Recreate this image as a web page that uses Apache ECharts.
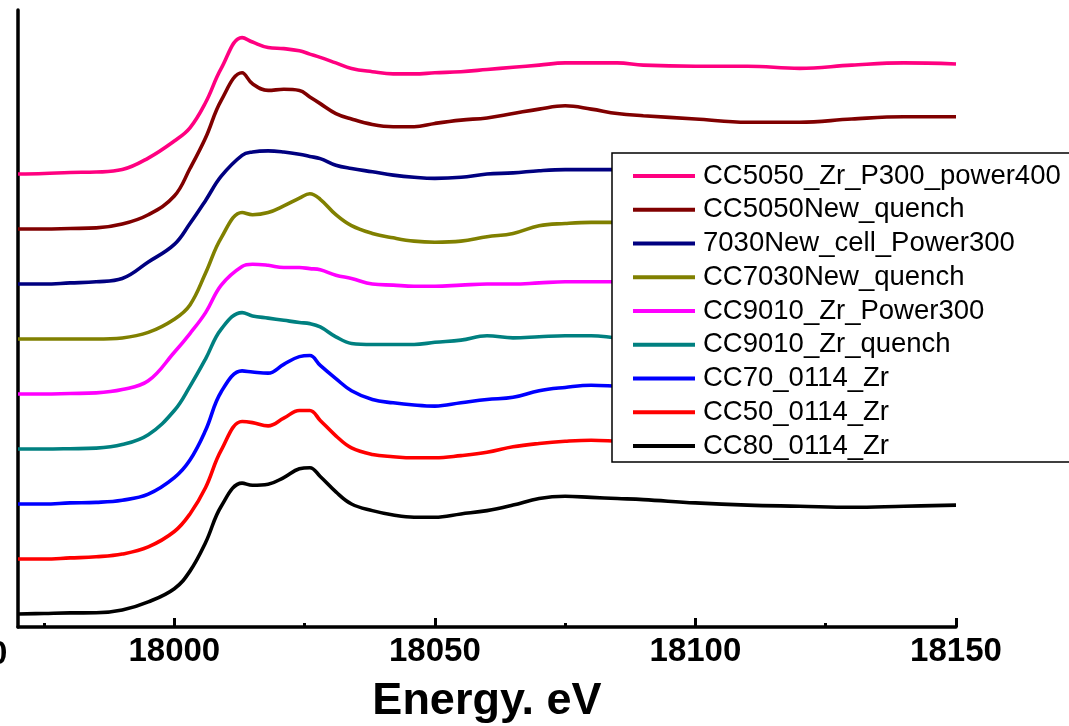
<!DOCTYPE html>
<html>
<head>
<meta charset="utf-8">
<script src="https://cdn.jsdelivr.net/npm/echarts@6/dist/echarts.min.js"></script>
<style>
  html, body { margin: 0; padding: 0; background: #fff; }
  #chart { width: 1069px; height: 726px; }
</style>
</head>
<body>
<div id="chart"></div>
<script>
// Zr K-edge XANES, normalized absorption, stacked with a constant offset
const energy = [17970, 17975, 17980, 17985, 17990, 17995, 18000, 18003, 18006, 18009,
  18013, 18015, 18018, 18021, 18024, 18026, 18028, 18031, 18034, 18038,
  18042, 18046, 18050, 18055, 18060, 18065, 18070, 18075, 18080, 18085,
  18090, 18100, 18110, 18120, 18130, 18140, 18150];

const seriesNames = ['CC5050_Zr_P300_power400', 'CC5050New_quench', '7030New_cell_Power300',
  'CC7030New_quench', 'CC9010_Zr_Power300', 'CC9010_Zr_quench', 'CC70_0114_Zr',
  'CC50_0114_Zr', 'CC80_0114_Zr'];

const seriesColors = ['#FF0080', '#800000', '#000080', '#808000', '#FF00FF', '#008080',
  '#0000FF', '#FF0000', '#000000'];

// vertical offset applied to each normalized spectrum
const offsets = [4.0, 3.5, 3.0, 2.5, 2.0, 1.5, 1.0, 0.5, 0.0];

const cc5050ZrP300Power400 = [0, 0.005, 0.014, 0.018, 0.04, 0.145, 0.30, 0.42, 0.65, 0.96,
  1.24, 1.20, 1.15, 1.14, 1.12, 1.09, 1.06, 1.01, 0.96, 0.93,
  0.91, 0.91, 0.92, 0.93, 0.95, 0.97, 0.99, 1.01, 1.01, 1.01,
  0.99, 0.98, 0.98, 0.96, 0.99, 1.01, 1.00];
const cc5050NewQuench = [0, 0, 0.005, 0.01, 0.045, 0.13, 0.30, 0.55, 0.83, 1.17,
  1.42, 1.32, 1.26, 1.27, 1.26, 1.20, 1.14, 1.05, 1.00, 0.95,
  0.93, 0.93, 0.96, 0.99, 1.01, 1.05, 1.09, 1.12, 1.09, 1.05,
  1.03, 1.00, 0.97, 0.97, 1.00, 1.02, 1.02];
const new7030CellPower300 = [0, 0, 0.01, 0.02, 0.05, 0.20, 0.36, 0.55, 0.76, 0.98,
  1.17, 1.20, 1.21, 1.20, 1.18, 1.16, 1.14, 1.08, 1.05, 1.02,
  0.99, 0.97, 0.96, 0.97, 1.00, 1.01, 1.03, 1.04, 1.04, 1.04,
  1.03, 1.02, 1.01, 1.00, 1.00, 1.00, 1.00];
const cc7030NewQuench = [0, 0, 0, 0, 0.01, 0.06, 0.18, 0.31, 0.60, 0.92,
  1.15, 1.13, 1.15, 1.21, 1.28, 1.32, 1.27, 1.13, 1.03, 0.96,
  0.92, 0.89, 0.88, 0.89, 0.93, 0.96, 1.03, 1.05, 1.06, 1.06,
  1.05, 1.03, 1.01, 1.00, 0.99, 1.00, 1.00];
const cc9010ZrPower300 = [0, 0, 0.005, 0.01, 0.04, 0.12, 0.38, 0.55, 0.74, 0.99,
  1.16, 1.18, 1.17, 1.15, 1.15, 1.14, 1.13, 1.08, 1.05, 1.00,
  0.99, 0.98, 0.98, 0.99, 1.00, 1.00, 1.01, 1.02, 1.02, 1.02,
  1.01, 1.00, 1.00, 1.00, 1.00, 1.00, 1.00];
const cc9010ZrQuench = [0, 0, 0.003, 0.008, 0.04, 0.13, 0.35, 0.57, 0.82, 1.09,
  1.24, 1.21, 1.19, 1.17, 1.15, 1.14, 1.11, 1.02, 0.96, 0.95,
  0.95, 0.95, 0.97, 0.99, 1.03, 1.01, 1.02, 1.03, 1.03, 1.01,
  1.00, 0.99, 0.99, 0.99, 1.00, 1.00, 1.00];
const cc70_0114Zr = [0, 0, 0.01, 0.015, 0.035, 0.09, 0.24, 0.40, 0.67, 1.02,
  1.21, 1.20, 1.19, 1.27, 1.34, 1.35, 1.26, 1.14, 1.03, 0.95,
  0.92, 0.90, 0.89, 0.92, 0.95, 0.97, 1.03, 1.06, 1.08, 1.07,
  1.06, 1.04, 1.01, 1.00, 0.99, 1.00, 1.00];
const cc50_0114Zr = [0, 0, 0.01, 0.02, 0.045, 0.11, 0.25, 0.41, 0.65, 0.99,
  1.25, 1.24, 1.21, 1.28, 1.35, 1.35, 1.26, 1.12, 1.01, 0.95,
  0.93, 0.92, 0.92, 0.94, 0.97, 1.02, 1.05, 1.07, 1.08, 1.07,
  1.06, 1.03, 1.00, 0.99, 0.98, 0.99, 1.00];
const cc80_0114Zr = [0, 0.005, 0.01, 0.011, 0.036, 0.11, 0.23, 0.39, 0.65, 0.98,
  1.19, 1.17, 1.18, 1.24, 1.32, 1.33, 1.25, 1.11, 1.00, 0.94,
  0.90, 0.88, 0.88, 0.91, 0.94, 0.99, 1.05, 1.07, 1.06, 1.05,
  1.04, 1.01, 0.99, 0.98, 0.97, 0.98, 0.99];

const spectra = [cc5050ZrP300Power400, cc5050NewQuench, new7030CellPower300, cc7030NewQuench,
  cc9010ZrPower300, cc9010ZrQuench, cc70_0114Zr, cc50_0114Zr, cc80_0114Zr];

const majorTicks = [18000, 18050, 18100, 18150];
const minorTicks = [17975, 18025, 18075, 18125];

const FONT = "'Liberation Sans', Arial, Helvetica, sans-serif";

const series = spectra.map((vals, i) => ({
  name: seriesNames[i],
  type: 'line',
  xAxisIndex: 0,
  showSymbol: false,
  smooth: 0.4,
  color: seriesColors[i],
  lineStyle: { width: 3.6, color: seriesColors[i] },
  data: vals.map((v, j) => [energy[j], v + offsets[i]])
}));

const chart = echarts.init(document.getElementById('chart'), null, { renderer: 'canvas' });
chart.setOption({
  animation: false,
  backgroundColor: '#fff',
  grid: { left: 18, right: 113, top: 10, bottom: 99, containLabel: false, outerBoundsMode: 'none' },
  xAxis: [
    {
      type: 'value',
      min: 17970,
      max: 18150,
      name: 'Energy. eV',
      nameLocation: 'middle',
      nameGap: 52,
      nameTextStyle: { fontFamily: FONT, fontWeight: 'bold', fontSize: 45, color: '#000' },
      axisLine: { show: true, onZero: false, lineStyle: { color: '#000', width: 3.5 } },
      axisTick: { show: true, inside: true, length: 9, customValues: majorTicks,
        lineStyle: { color: '#000', width: 3 } },
      axisLabel: { show: true, customValues: majorTicks, margin: 8,
        formatter: (v) => String(v),
        fontFamily: FONT, fontWeight: 'bold', fontSize: 33, color: '#000' },
      splitLine: { show: false }
    },
    {
      type: 'value',
      min: 17970,
      max: 18150,
      position: 'bottom',
      axisLine: { show: false, onZero: false },
      axisTick: { show: true, inside: true, length: 4, customValues: minorTicks,
        lineStyle: { color: '#000', width: 3 } },
      axisLabel: { show: false },
      splitLine: { show: false }
    }
  ],
  yAxis: {
    type: 'value',
    min: -0.118,
    max: 5.491,
    axisLine: { show: true, onZero: false, lineStyle: { color: '#000', width: 3.5 } },
    axisTick: { show: false },
    axisLabel: { show: false },
    splitLine: { show: false }
  },
  legend: {
    orient: 'vertical',
    left: 612,
    top: 153,
    data: seriesNames,
    icon: 'rect',
    itemWidth: 62,
    itemHeight: 4,
    itemGap: 3.75,
    padding: [8, 15, 1, 21],
    backgroundColor: '#fff',
    borderColor: '#000',
    borderWidth: 1.5,
    textStyle: { fontFamily: FONT, fontSize: 27.5, color: '#000', lineHeight: 30,
      padding: [0, 0, 0, 3] },
    selectedMode: false
  },
  graphic: [
    {
      type: 'text',
      x: -11,
      y: 638,
      style: { text: '0', font: "bold 33px 'Liberation Sans', Arial, sans-serif", fill: '#000' }
    }
  ],
  series: series
});
</script>
</body>
</html>
